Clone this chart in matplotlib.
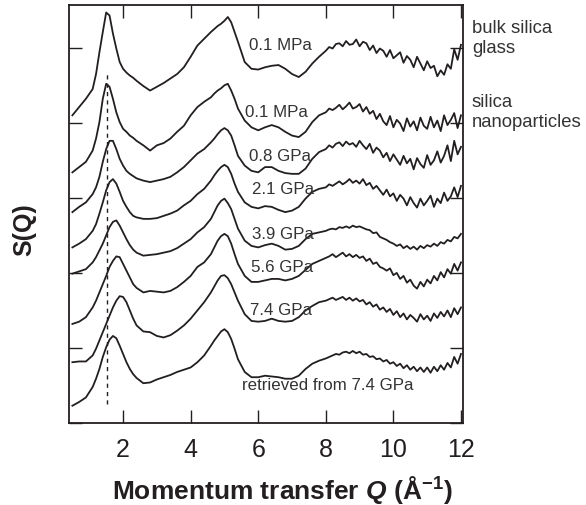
import numpy as np
import matplotlib
matplotlib.use("Agg")
import matplotlib.pyplot as plt

plt.rcParams['font.family'] = ['Liberation Sans', 'DejaVu Sans']
plt.rcParams['mathtext.fontset'] = 'custom'
plt.rcParams['mathtext.rm'] = 'Liberation Sans:bold'
plt.rcParams['mathtext.it'] = 'Liberation Sans:italic:bold'

# momentum transfer grid (1/A); finer where the data get noisy
q = [0.5, 0.7, 0.9, 1.1,
     1.2, 1.3, 1.4, 1.5, 1.6, 1.7, 1.8, 1.9, 2.0, 2.1, 2.2, 2.3, 2.4,
     2.6, 2.8, 3.0, 3.2, 3.4, 3.6, 3.8, 4.0, 4.2, 4.4, 4.6,
     4.7, 4.8, 4.9, 5.0, 5.1, 5.2, 5.3, 5.4,
     5.6, 5.8, 6.0, 6.2, 6.4, 6.6, 6.8, 7.0, 7.2, 7.4, 7.6, 7.8,
     8.0, 8.1, 8.2, 8.3, 8.4, 8.5, 8.6, 8.7, 8.8, 8.9,
     9.0, 9.1, 9.2, 9.3, 9.4, 9.5, 9.6, 9.7, 9.8, 9.9,
     10.0, 10.1, 10.2, 10.3, 10.4, 10.5, 10.6, 10.7, 10.8, 10.9,
     11.0, 11.1, 11.2, 11.3, 11.4, 11.5, 11.6, 11.7, 11.8, 11.9, 12.0]

# stacked S(Q) curves, as plotted (offset included)
s_bulk = [4.10, 4.21, 4.32, 4.45,
          4.65, 4.94, 5.21, 5.47, 5.43, 5.19, 4.99, 4.81, 4.72, 4.67, 4.63, 4.60, 4.56,
          4.49, 4.43, 4.48, 4.53, 4.59, 4.65, 4.74, 4.88, 5.03, 5.12, 5.21,
          5.25, 5.29, 5.32, 5.36, 5.41, 5.34, 5.21, 5.08,
          4.81, 4.72, 4.71, 4.74, 4.76, 4.77, 4.72, 4.65, 4.61, 4.68, 4.79, 4.88,
          4.96, 5.01, 4.99, 5.05, 5.06, 5.02, 5.09, 5.04, 5.05, 5.11,
          5.02, 5.08, 5.06, 4.97, 5.03, 4.93, 4.99, 4.96, 4.88, 4.97,
          4.86, 4.90, 4.94, 4.80, 4.89, 4.84, 4.74, 4.88, 4.79, 4.70,
          4.82, 4.73, 4.76, 4.62, 4.70, 4.64, 4.78, 4.72, 4.98, 4.84, 5.04]
s_nano = [3.34, 3.41, 3.48, 3.63,
          3.79, 4.01, 4.32, 4.52, 4.48, 4.32, 4.14, 4.01, 3.92, 3.88, 3.83, 3.80, 3.76,
          3.70, 3.63, 3.70, 3.73, 3.79, 3.88, 3.96, 4.10, 4.21, 4.28, 4.34,
          4.39, 4.43, 4.46, 4.50, 4.52, 4.43, 4.32, 4.19,
          4.03, 3.94, 3.90, 3.94, 3.97, 3.94, 3.88, 3.83, 3.81, 3.88, 4.01, 4.10,
          4.14, 4.19, 4.17, 4.20, 4.24, 4.18, 4.22, 4.27, 4.19, 4.21,
          4.25, 4.15, 4.21, 4.12, 4.16, 4.05, 4.12, 4.02, 3.97, 4.09,
          3.94, 4.04, 3.99, 3.89, 4.06, 3.95, 4.02, 3.90, 4.07, 3.96,
          3.92, 4.08, 3.94, 4.03, 3.89, 4.10, 3.97, 4.04, 4.13, 3.93, 4.10]
s_08 = [2.81, 2.88, 2.94, 3.05,
        3.14, 3.28, 3.48, 3.65, 3.76, 3.76, 3.65, 3.52, 3.43, 3.36, 3.32, 3.29, 3.26,
        3.23, 3.21, 3.23, 3.25, 3.28, 3.34, 3.41, 3.50, 3.59, 3.65, 3.74,
        3.79, 3.85, 3.90, 3.93, 3.90, 3.83, 3.70, 3.56,
        3.43, 3.36, 3.34, 3.41, 3.41, 3.36, 3.33, 3.32, 3.32, 3.39, 3.52, 3.61,
        3.65, 3.70, 3.67, 3.72, 3.74, 3.69, 3.75, 3.71, 3.73, 3.68,
        3.76, 3.70, 3.65, 3.72, 3.60, 3.67, 3.63, 3.54, 3.60, 3.49,
        3.58, 3.51, 3.44, 3.56, 3.46, 3.52, 3.38, 3.53, 3.45, 3.40,
        3.57, 3.44, 3.50, 3.62, 3.47, 3.56, 3.70, 3.49, 3.76, 3.58, 3.68]
s_21 = [2.34, 2.39, 2.45, 2.56,
        2.65, 2.79, 2.94, 3.10, 3.21, 3.25, 3.19, 3.08, 2.96, 2.88, 2.81, 2.76, 2.74,
        2.72, 2.72, 2.73, 2.76, 2.79, 2.83, 2.90, 2.96, 3.05, 3.12, 3.23,
        3.30, 3.36, 3.41, 3.44, 3.41, 3.32, 3.19, 3.08,
        2.94, 2.88, 2.86, 2.89, 2.88, 2.84, 2.81, 2.83, 2.88, 2.99, 3.08, 3.12,
        3.14, 3.18, 3.16, 3.19, 3.22, 3.18, 3.21, 3.25, 3.20, 3.23,
        3.19, 3.25, 3.17, 3.20, 3.12, 3.16, 3.10, 3.04, 3.11, 3.02,
        3.06, 2.96, 3.04, 2.99, 2.90, 3.01, 2.93, 2.87, 2.99, 2.90,
        2.96, 3.03, 2.88, 2.99, 2.93, 3.07, 2.96, 3.02, 3.14, 3.01, 3.16]
s_39 = [1.99, 2.02, 2.05, 2.14,
        2.21, 2.30, 2.39, 2.50, 2.61, 2.68, 2.70, 2.63, 2.54, 2.45, 2.37, 2.31, 2.27,
        2.23, 2.24, 2.25, 2.27, 2.29, 2.33, 2.39, 2.45, 2.54, 2.61, 2.72,
        2.81, 2.90, 2.96, 2.99, 2.93, 2.85, 2.72, 2.59,
        2.43, 2.36, 2.34, 2.37, 2.39, 2.36, 2.31, 2.32, 2.36, 2.45, 2.52, 2.54,
        2.56, 2.58, 2.59, 2.58, 2.61, 2.60, 2.62, 2.60, 2.63, 2.61,
        2.62, 2.60, 2.58, 2.57, 2.53, 2.54, 2.48, 2.46, 2.44, 2.41,
        2.39, 2.36, 2.38, 2.33, 2.36, 2.32, 2.35, 2.31, 2.36, 2.33,
        2.37, 2.35, 2.39, 2.36, 2.41, 2.39, 2.44, 2.42, 2.48, 2.46, 2.52]
s_56 = [1.32, 1.35, 1.41, 1.54,
        1.63, 1.74, 1.85, 1.96, 2.08, 2.16, 2.22, 2.21, 2.12, 2.03, 1.94, 1.85, 1.80,
        1.74, 1.76, 1.75, 1.74, 1.76, 1.81, 1.88, 1.96, 2.08, 2.14, 2.25,
        2.34, 2.43, 2.49, 2.52, 2.49, 2.39, 2.25, 2.12,
        1.96, 1.88, 1.88, 1.90, 1.92, 1.92, 1.90, 1.92, 1.96, 2.04, 2.12, 2.16,
        2.20, 2.22, 2.25, 2.21, 2.24, 2.27, 2.22, 2.25, 2.21, 2.24,
        2.20, 2.22, 2.16, 2.19, 2.12, 2.14, 2.08, 2.06, 2.03, 2.06,
        1.97, 2.00, 1.92, 1.96, 1.87, 1.91, 1.83, 1.79, 1.88, 1.82,
        1.91, 1.86, 1.96, 1.90, 2.01, 1.94, 2.05, 1.99, 2.12, 2.03, 2.14]
s_74 = [0.81, 0.82, 0.82, 0.90,
        0.99, 1.10, 1.21, 1.32, 1.43, 1.54, 1.63, 1.69, 1.68, 1.61, 1.50, 1.39, 1.30,
        1.22, 1.21, 1.16, 1.14, 1.17, 1.23, 1.30, 1.39, 1.50, 1.61, 1.74,
        1.82, 1.90, 1.96, 1.97, 1.93, 1.85, 1.74, 1.63,
        1.45, 1.36, 1.35, 1.36, 1.39, 1.36, 1.35, 1.36, 1.41, 1.50, 1.56, 1.61,
        1.63, 1.65, 1.67, 1.64, 1.66, 1.68, 1.64, 1.67, 1.63, 1.66,
        1.62, 1.64, 1.58, 1.61, 1.55, 1.58, 1.51, 1.54, 1.48, 1.52,
        1.44, 1.49, 1.41, 1.46, 1.38, 1.44, 1.40, 1.35, 1.45, 1.38,
        1.43, 1.36, 1.46, 1.40, 1.48, 1.42, 1.50, 1.41, 1.53, 1.45, 1.54]
s_ret = [0.23, 0.28, 0.34, 0.48,
         0.59, 0.72, 0.88, 1.01, 1.11, 1.16, 1.13, 1.03, 0.92, 0.81, 0.72, 0.65, 0.60,
         0.53, 0.54, 0.58, 0.61, 0.64, 0.68, 0.71, 0.74, 0.81, 0.90, 1.03,
         1.10, 1.16, 1.22, 1.25, 1.21, 1.12, 0.99, 0.85,
         0.68, 0.61, 0.61, 0.63, 0.62, 0.61, 0.59, 0.59, 0.63, 0.72, 0.79, 0.83,
         0.86, 0.88, 0.90, 0.92, 0.91, 0.94, 0.95, 0.93, 0.96, 0.93,
         0.95, 0.91, 0.92, 0.88, 0.89, 0.85, 0.86, 0.82, 0.84, 0.79,
         0.81, 0.76, 0.79, 0.73, 0.77, 0.71, 0.75, 0.69, 0.74, 0.68,
         0.74, 0.67, 0.75, 0.69, 0.77, 0.71, 0.80, 0.74, 0.88, 0.79, 0.92]

curves = [s_bulk, s_nano, s_08, s_21, s_39, s_56, s_74, s_ret]
labels = ['0.1 MPa', '0.1 MPa', '0.8 GPa', '2.1 GPa', '3.9 GPa', '5.6 GPa',
          '7.4 GPa', 'retrieved from 7.4 GPa']
label_q = [5.73, 5.61, 5.73, 5.82, 5.82, 5.79, 5.76, 5.52]
label_y = [5.05, 4.15, 3.57, 3.12, 2.53, 2.08, 1.51, 0.51]
fsdp_q = 1.52  # first sharp diffraction peak of bulk glass

ink = '#231f20'
fig = plt.figure(figsize=(5.86, 5.06), dpi=100)
ax = fig.add_axes([69/586, 1-424/506, 394/586, 418/506])

for s in curves:
    ax.plot(q, s, color=ink, lw=1.3)

ax.vlines(fsdp_q, 0.25, 4.67, colors=ink, linestyles=(0, (3, 3)), lw=1)

for lab, lx, ly in zip(labels, label_q, label_y):
    ax.text(lx, ly, lab, fontsize=12.2, color='#333333', va='center', ha='left')

ax.set_xlim(0.4, 12.06)
ax.set_ylim(0, 5.57)
ax.set_xticks([2, 4, 6, 8, 10, 12])
ax.set_yticks([0, 1, 2, 3, 4, 5])
ax.set_yticklabels([])
ax.tick_params(direction='in', length=9.5, width=1, top=True, right=True,
               labelsize=18, colors=ink, pad=10)
for sp in ax.spines.values():
    sp.set_linewidth(1.3)
    sp.set_color(ink)

side = dict(fontsize=13.3, color='#333333', va='baseline', ha='left')
fig.text(472/586, 1-33/506, 'bulk silica', **side)
fig.text(472/586, 1-53/506, 'glass', **side)
fig.text(472/586, 1-107/506, 'silica', **side)
fig.text(472/586, 1-127/506, 'nanoparticles', **side)

fig.text(0.482, 1-490/506, r'Momentum transfer $Q$ (Å$^{-1}$)', fontsize=19,
         fontweight='bold', color=ink, ha='center', va='center')
fig.text(24/586, 1-230/506, 'S(Q)', fontsize=18, fontweight='bold',
         color=ink, ha='center', va='center', rotation=90)

fig.savefig('out.png', dpi=100)
